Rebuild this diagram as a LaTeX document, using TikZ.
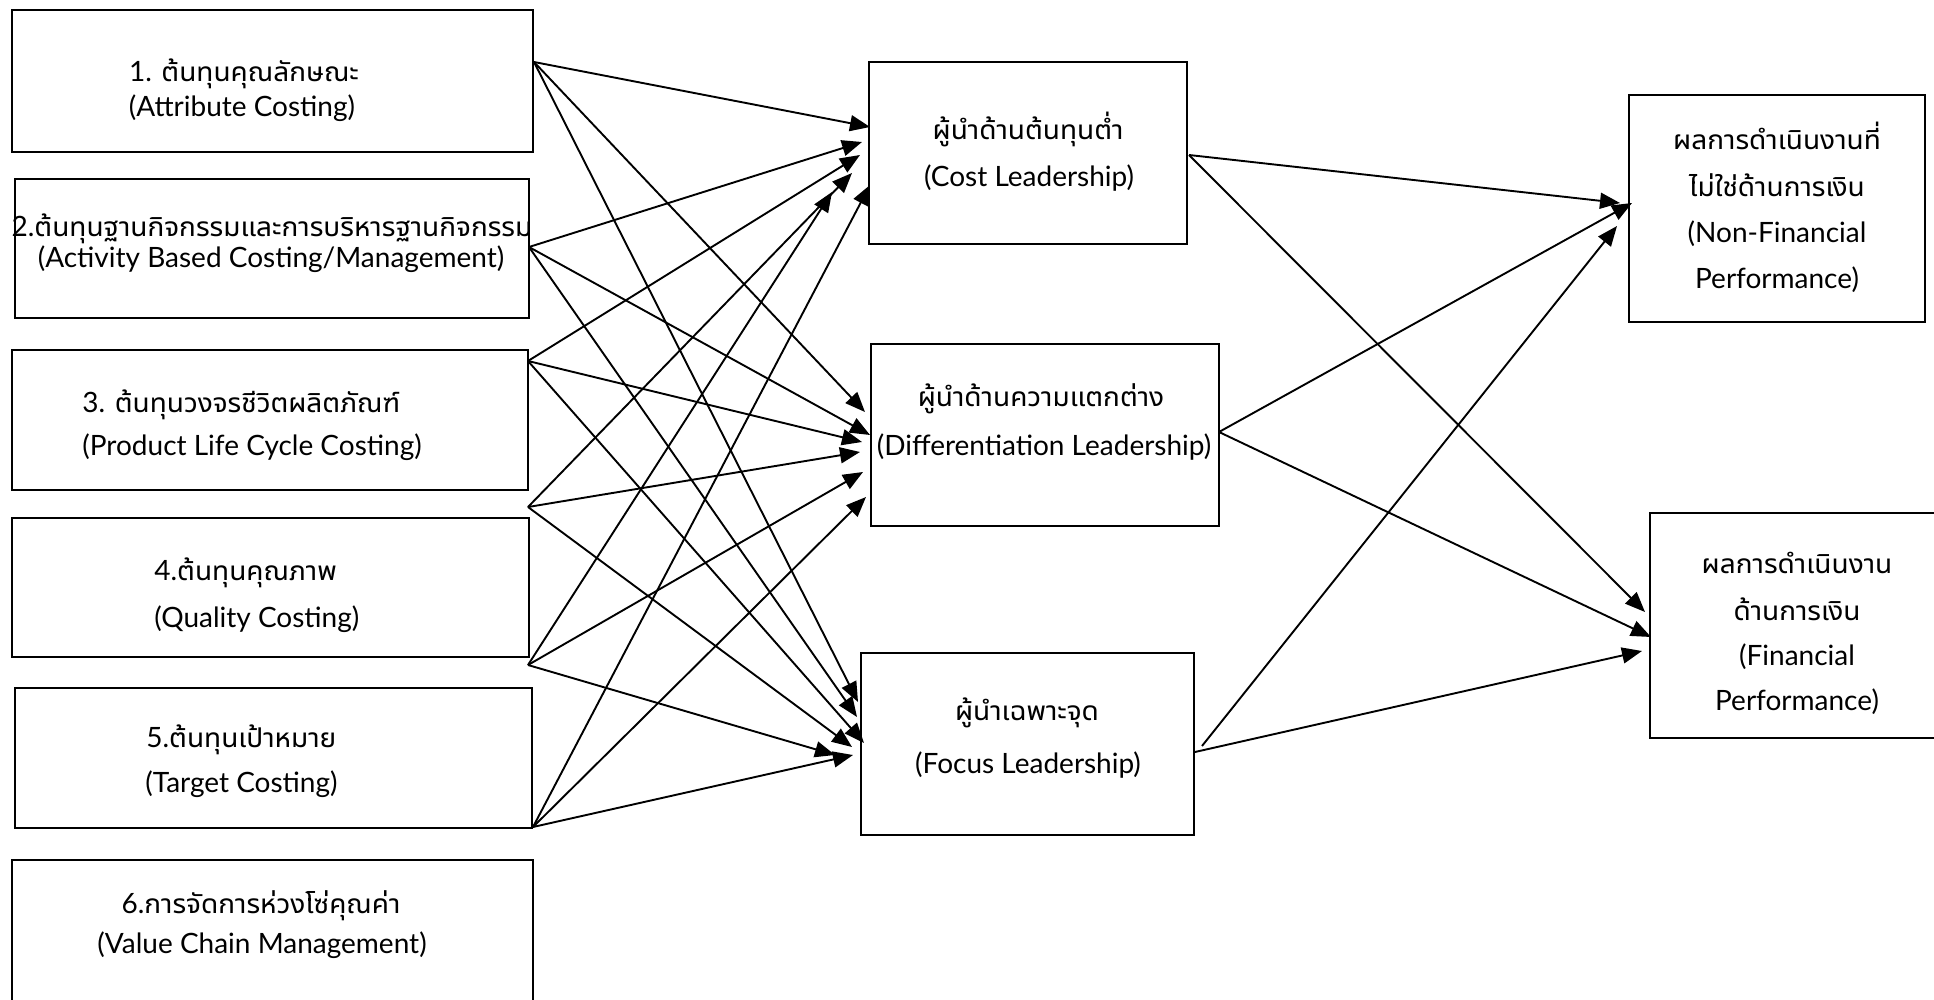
\documentclass[tikz,border=0pt]{standalone}
\usepackage{fontspec}
\setmainfont{Lato}
\IfFontExistsTF{Noto Sans Thai UI}
  {\newfontfamily\thaifont[Script=Thai]{Noto Sans Thai UI}}
  {\newfontfamily\thaifont[Script=Thai]{Loma}}
\usetikzlibrary{arrows.meta}

\tikzset{
  box/.style={draw, line width=1.3pt, inner sep=0pt, rectangle},
  txt/.style={inner sep=0pt, anchor=base, font=\fontsize{14}{16}\selectfont},
  txtl/.style={txt, anchor=base west},
  link/.style={line width=0.95pt, -{Triangle[length=10pt,width=8pt]}},
}
\newcommand\T[1]{{\thaifont #1}}

\begin{document}
\begin{tikzpicture}[x=0.5pt, y=-0.5pt]
\useasboundingbox (0,0) rectangle (1934,1000);

% ---- cost management techniques ----
\node[box, minimum width=260.5pt, minimum height=71pt]   (b1) at (272.5,81)  {};
\node[box, minimum width=257pt,   minimum height=69.5pt] (b2) at (272,248.5) {};
\node[box, minimum width=258pt,   minimum height=70pt]   (b3) at (270,420)   {};
\node[box, minimum width=258.5pt, minimum height=69.5pt] (b4) at (270.5,587.5) {};
\node[box, minimum width=258.5pt, minimum height=70pt]   (b5) at (273.5,758) {};
\node[box, minimum width=260.5pt, minimum height=75pt]   (b6) at (272.5,935) {};

\node[txt] (t1a) at (244,82)  {1. \T{ต้นทุนคุณลักษณะ}};
\node[txt] (t1b) at (242,117) {(Attribute Costing)};
\node[txt] (t2a) at (272,237) {2.\T{ต้นทุนฐานกิจกรรมและการบริหารฐานกิจกรรม}};
\node[txt] (t2b) at (271,268) {(Activity Based Costing/Management)};
\node[txtl] (t3a) at (82,412) {3. \T{ต้นทุนวงจรชีวิตผลิตภัณฑ์}};
\node[txtl] (t3b) at (82,455) {(Product Life Cycle Costing)};
\node[txtl] (t4a) at (154,580) {4.\T{ต้นทุนคุณภาพ}};
\node[txtl] (t4b) at (154,627) {(Quality Costing)};
\node[txtl] (t5a) at (146,747) {5.\T{ต้นทุนเป้าหมาย}};
\node[txtl] (t5b) at (145,792) {(Target Costing)};
\node[txt] (t6a) at (261,913) {6.\T{การจัดการห่วงโซ่คุณค่า}};
\node[txt] (t6b) at (262,953) {(Value Chain Management)};

% ---- competitive strategies ----
\node[box, minimum width=159pt, minimum height=91pt] (cost)  at (1028,153)   {};
\node[box, minimum width=174pt, minimum height=91pt] (diff)  at (1045,435)   {};
\node[box, minimum width=166.5pt, minimum height=91pt] (focus) at (1027.5,744) {};

\node[txt] (tca) at (1028,140) {\T{ผู้นำด้านต้นทุนต่ำ}};
\node[txt] (tcb) at (1029,187) {(Cost Leadership)};
\node[txt] (tda) at (1041,407) {\T{ผู้นำด้านความแตกต่าง}};
\node[txt] (tdb) at (1044,455) {(Differentiation Leadership)};
\node[txt] (tfa) at (1027,720) {\T{ผู้นำเฉพาะจุด}};
\node[txt] (tfb) at (1028,773) {(Focus Leadership)};

% ---- performance ----
\node[box, minimum width=148pt, minimum height=113.5pt] (nonfin) at (1777,208.5) {};
\node[box, minimum width=145pt, minimum height=112.5pt] (fin)    at (1795,625.5) {};

\node[txt] (tna) at (1777,150) {\T{ผลการดำเนินงานที่}};
\node[txt] (tnb) at (1777,197) {\T{ไม่ใช่ด้านการเงิน}};
\node[txt] (tnc) at (1777,243) {(Non-Financial};
\node[txt] (tnd) at (1777,289) {Performance)};
\node[txt] (tpa) at (1797,573) {\T{ผลการดำเนินงาน}};
\node[txt] (tpb) at (1797,620) {\T{ด้านการเงิน}};
\node[txt] (tpc) at (1797,665) {(Financial};
\node[txt] (tpd) at (1797,710) {Performance)};

% ---- connector end points ----
\coordinate (s1) at (534,62);
\coordinate (s2) at (529,247);
\coordinate (s3) at (528,361);
\coordinate (s4) at (528,507);
\coordinate (s5) at (528,665);
\coordinate (s6) at (533,827);

\coordinate (c1) at (870,127);
\coordinate (c2) at (862,142);
\coordinate (c3) at (860,155);
\coordinate (c4) at (852,173);
\coordinate (c5) at (832,192);
\coordinate (c6) at (870,185);

\coordinate (d1) at (865,412);
\coordinate (d2) at (870,435);
\coordinate (d3) at (862,442);
\coordinate (d4) at (860,452);
\coordinate (d5) at (863,472);
\coordinate (d6) at (866,497);

\coordinate (f1) at (858,702);
\coordinate (f2) at (857,717);
\coordinate (f3) at (864,743);
\coordinate (f4) at (852,747);
\coordinate (f5) at (835,755);
\coordinate (f6) at (853,755);

\coordinate (co) at (1189,155);
\coordinate (do) at (1219,432);
\coordinate (fo1) at (1202,746);
\coordinate (fo2) at (1195,752);

\coordinate (n1) at (1620,203);
\coordinate (n2) at (1632,203);
\coordinate (n3) at (1617,226);
\coordinate (p1) at (1645,612);
\coordinate (p2) at (1651,637);
\coordinate (p3) at (1642,651);

% techniques -> strategies
\foreach \i in {1,...,6} {
  \draw[link] (s\i) -- (c\i);
  \draw[link] (s\i) -- (d\i);
  \draw[link] (s\i) -- (f\i);
}

% strategies -> performance
\draw[link] (co) -- (n1);
\draw[link] (co) -- (p1);
\draw[link] (do) -- (n2);
\draw[link] (do) -- (p2);
\draw[link] (fo1) -- (n3);
\draw[link] (fo2) -- (p3);
\end{tikzpicture}
\end{document}
